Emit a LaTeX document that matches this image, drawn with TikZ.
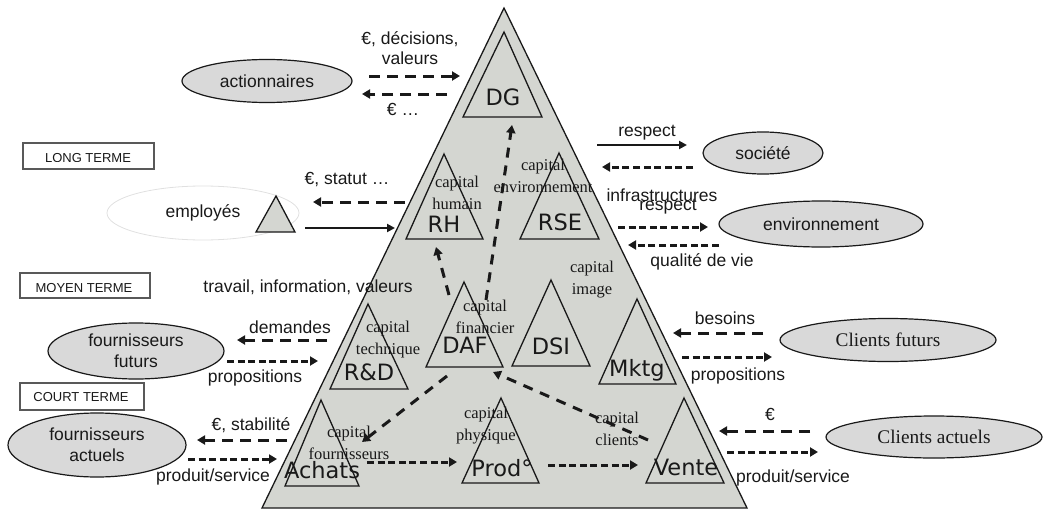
\documentclass[tikz,border=0pt]{standalone}
\usepackage{fontspec}
\setmainfont{Liberation Sans}
\newfontfamily\serifface{Liberation Serif}
\newfontfamily\deptface{DejaVu Sans}
\usetikzlibrary{arrows.meta,shapes.geometric}

\definecolor{pyr}{RGB}{212,214,209}
\definecolor{ell}{RGB}{217,217,217}
\definecolor{ink}{RGB}{25,25,25}

\tikzset{
  every node/.style={inner sep=0pt, outer sep=0pt},
  pyramid/.style={fill=pyr, draw=ink, line width=1.3pt, line join=miter},
  tri/.style={draw=ink, line width=1.3pt},
  dept/.style={font=\deptface\fontsize{22.5}{24}\selectfont, text=ink},
  capitallbl/.style={font=\serifface\fontsize{16.5}{22}\selectfont, align=center, text=ink},
  txt/.style={font=\fontsize{17.5}{19}\selectfont, align=center, text=ink},
  ext/.style={ellipse, fill=ell, draw=ink, line width=1.2pt, align=center,
              font=\fontsize{17.5}{21}\selectfont, text=ink},
  extserif/.style={ext, font=\serifface\fontsize{19.3}{21}\selectfont},
  termbox/.style={draw=black!65, line width=1.3pt, fill=white},
  termtxt/.style={font=\fontsize{13}{14}\selectfont, text=ink},
  flow/.style={line width=3pt, draw=ink, -{Triangle[length=8pt,width=9pt]}},
  longdash/.style={flow, dash pattern=on 11pt off 7pt},
  shortdash/.style={flow, dash pattern=on 7pt off 3.6pt},
  innerdash/.style={flow, dash pattern=on 10pt off 8pt},
  solidflow/.style={draw=ink, line width=2.2pt, -{Triangle[length=8pt,width=8pt]}},
}

\begin{document}
\begin{tikzpicture}[x=1pt,y=-1pt]
\useasboundingbox (0,0) rectangle (1049,511);

% ---- the company pyramid and its departments
\draw[pyramid] (504,8) -- (262,508) -- (747,508) -- cycle;
\draw[tri] (504,32)  -- (463,117) -- (542,117) -- cycle; % DG
\draw[tri] (444,154) -- (406,239) -- (483,239) -- cycle; % RH
\draw[tri] (559,153) -- (520,239) -- (599,239) -- cycle; % RSE
\draw[tri] (464,282) -- (426,367) -- (503,367) -- cycle; % DAF
\draw[tri] (551,280) -- (512,366) -- (590,366) -- cycle; % DSI
\draw[tri] (637,299) -- (599,384) -- (676,384) -- cycle; % Mktg
\draw[tri] (368,304) -- (330,389) -- (408,389) -- cycle; % R&D
\draw[tri] (321,400) -- (285,486) -- (359,486) -- cycle; % Achats
\draw[tri] (501,398) -- (462,483) -- (539,483) -- cycle; % Prod
\draw[tri] (684,398) -- (646,483) -- (724,483) -- cycle; % Vente

\node[dept] (DG)   at (503,97)  {DG};
\node[dept] (RH)   at (444,224) {RH};
\node[dept] (RSE)  at (560,222) {RSE};
\node[dept] (DAF)  at (465,345) {DAF};
\node[dept] (DSI)  at (551,346) {DSI};
\node[dept] (Mktg) at (637,370) {Mktg};
\node[dept] (RD)   at (369,372) {R\&D};
\node[dept] (Achats) at (322,470) {Achats};
\node[dept] (Prod) at (502,468) {Prod°};
\node[dept] (Vente) at (686,467) {Vente};

% ---- kinds of capital
\node[capitallbl] (kHum)  at (457,193)   {capital\\humain};
\node[capitallbl] (kEnv)  at (543,176)   {capital\\environnement};
\node[capitallbl] (kFin)  at (485,316.5) {capital\\financier};
\node[capitallbl] (kTech) at (388,340)   {capital\\technique};
\node[capitallbl] (kImg)  at (592,279.5) {capital\\image};
\node[capitallbl] (kPhys) at (486,425.5) {capital\\physique};
\node[capitallbl] (kCli)  at (617,428.5) {capital\\clients};
\node[capitallbl] (kFour) at (349,442.5) {capital\\fournisseurs};

% ---- internal flows
\coordinate (dafUp)    at (486,300);
\coordinate (dgLow)    at (512,125);
\coordinate (dafLeft)  at (449,295);
\coordinate (rhLow)    at (436,247);
\coordinate (dafBase)  at (447,376);
\coordinate (achIn)    at (362,442);
\coordinate (venOut)   at (648,440);
\coordinate (dafIn)    at (493,372);
\coordinate (achOut)   at (367,462);
\coordinate (prodIn)   at (457,462);
\coordinate (prodOut)  at (548,465);
\coordinate (venIn)    at (638,465);
\draw[innerdash] (dafUp) -- (dgLow);
\draw[innerdash] (dafLeft) -- (rhLow);
\draw[innerdash] (dafBase) -- (achIn);
\draw[innerdash] (venOut) -- (dafIn);
\draw[shortdash] (achOut) -- (prodIn);
\draw[shortdash] (prodOut) -- (venIn);

% ---- horizon boxes
\draw[termbox] (23,143) rectangle (154,169);
\begin{scope}
  \clip (23,143) rectangle (154,161);
  \node[termtxt, anchor=base] (long) at (88,162.5) {LONG TERME};
\end{scope}
\draw[termbox] (20,273) rectangle (150,298);
\begin{scope}
  \clip (20,273) rectangle (150,291);
  \node[termtxt, anchor=base] (moyen) at (84,292.5) {MOYEN TERME};
\end{scope}
\draw[termbox] (20,383) rectangle (144,410);
\node[termtxt] (court) at (81,397) {COURT TERME};

% ---- stakeholders
\node[ext, minimum width=170pt, minimum height=43pt] (act) at (267,81) {actionnaires};
\node[ellipse, draw=black!12, line width=0.8pt, minimum width=192pt, minimum height=54pt,
      font=\fontsize{17.5}{21}\selectfont, text=ink] (emp) at (203,213) {employés};
\draw[fill=pyr, draw=ink, line width=1.3pt] (276,196) -- (256,232) -- (295,232) -- cycle;
\node[ext, minimum width=176pt, minimum height=56pt] (ff) at (136,351) {fournisseurs\\futurs};
\node[ext, minimum width=178pt, minimum height=64pt] (fa) at (97,445) {fournisseurs\\actuels};
\node[ext, minimum width=120pt, minimum height=42pt] (soc) at (763,153) {société};
\node[ext, minimum width=204pt, minimum height=46pt] (env) at (821,224) {environnement};
\node[extserif, minimum width=216pt, minimum height=43pt] (cf) at (888,340) {Clients futurs};
\node[extserif, minimum width=216pt, minimum height=42pt] (ca) at (934,437) {Clients actuels};

% ---- shareholders
\coordinate (actR1) at (369,76);  \coordinate (dgL1) at (460,76);
\coordinate (dgL2)  at (447,94);  \coordinate (actR2) at (362,94);
\draw[longdash] (actR1) -- (dgL1);
\draw[longdash] (dgL2) -- (actR2);
\node[txt] (lDec) at (410,39) {€, décisions,};
\node[txt] (lVal) at (410,58) {valeurs};
\node[txt] (lEur) at (403,109) {€ …};

% ---- employees
\coordinate (rhOut) at (405,202); \coordinate (empIn) at (313,202);
\coordinate (empOut) at (305,228); \coordinate (rhIn) at (395,228);
\draw[longdash] (rhOut) -- (empIn);
\draw[solidflow] (empOut) -- (rhIn);
\node[txt] (lStat) at (347,180) {€, statut …};
\node[txt] (lTrav) at (308,287) {travail, information, valeurs};

% ---- future suppliers
\coordinate (rdOut) at (327,340); \coordinate (ffIn) at (237,340);
\coordinate (ffOut) at (227,361); \coordinate (rdIn) at (318,361);
\draw[longdash] (rdOut) -- (ffIn);
\draw[shortdash] (ffOut) -- (rdIn);
\node[txt] (lDem) at (290,327) {demandes};
\node[txt] (lProp1) at (255,378) {propositions};

% ---- current suppliers
\coordinate (achL) at (287,440); \coordinate (faIn) at (197,440);
\coordinate (faOut) at (188,459); \coordinate (achR) at (277,459);
\draw[longdash] (achL) -- (faIn);
\draw[shortdash] (faOut) -- (achR);
\node[txt] (lStab) at (251,425) {€, stabilité};
\node[txt] (lProd1) at (213,477) {produit/service};

% ---- society
\coordinate (rseOut) at (597,145); \coordinate (socIn) at (687,145);
\coordinate (socOut) at (693,167); \coordinate (rseIn) at (602,167);
\draw[solidflow] (rseOut) -- (socIn);
\draw[shortdash] (socOut) -- (rseIn);
\node[txt] (lResp1) at (647,133) {respect};
\node[txt] (lInfra) at (662,195) {infrastructures};

% ---- environment
\coordinate (rseOut2) at (618,227); \coordinate (envIn) at (708,227);
\coordinate (envOut) at (719,245); \coordinate (rseIn2) at (628,245);
\draw[shortdash] (rseOut2) -- (envIn);
\draw[shortdash] (envOut) -- (rseIn2);
\node[txt] (lResp2) at (668,207) {respect};
\node[txt] (lQual) at (702,262) {qualité de vie};

% ---- future customers
\coordinate (cfOut) at (763,333); \coordinate (mkIn) at (673,333);
\coordinate (mkOut) at (682,357); \coordinate (cfIn) at (772,357);
\draw[longdash] (cfOut) -- (mkIn);
\draw[shortdash] (mkOut) -- (cfIn);
\node[txt] (lBes) at (725,318) {besoins};
\node[txt] (lProp2) at (738,376) {propositions};

% ---- current customers
\coordinate (caOut) at (810,431); \coordinate (veIn) at (719,431);
\coordinate (veOut) at (727,452); \coordinate (caIn) at (818,452);
\draw[longdash] (caOut) -- (veIn);
\draw[shortdash] (veOut) -- (caIn);
\node[txt] (lEur2) at (770,414) {€};
\node[txt] (lProd2) at (793,478) {produit/service};
\end{tikzpicture}
\end{document}
